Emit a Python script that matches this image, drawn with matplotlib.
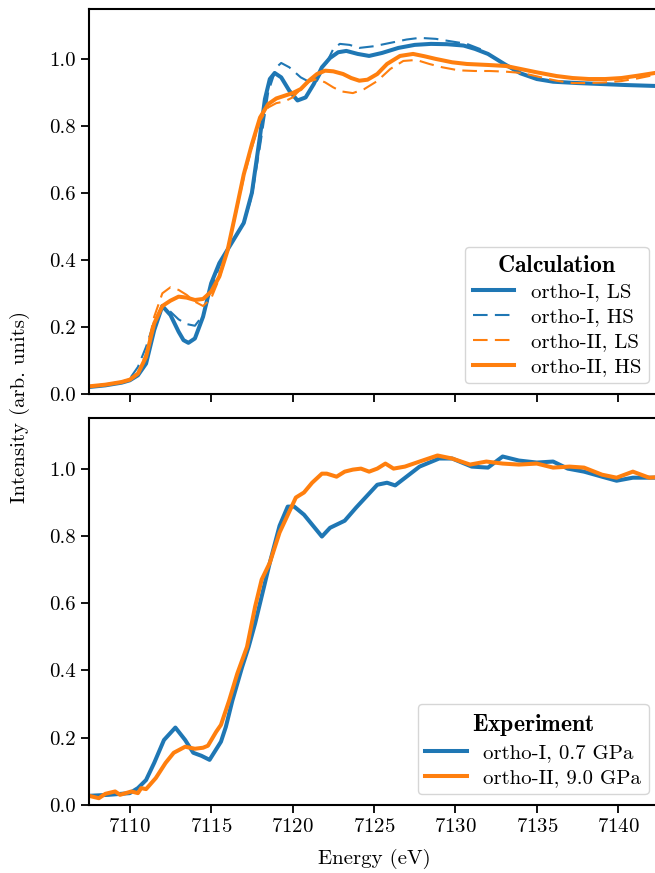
import numpy as np
import matplotlib
matplotlib.use("Agg")
import matplotlib.pyplot as plt

plt.rcParams['font.family'] = ['cmr10', 'DejaVu Serif']
plt.rcParams['mathtext.fontset'] = 'cm'
plt.rcParams['axes.formatter.use_mathtext'] = True
plt.rcParams['font.size'] = 15
plt.rcParams['axes.linewidth'] = 1.5
plt.rcParams['xtick.major.width'] = 1.3
plt.rcParams['ytick.major.width'] = 1.3
plt.rcParams['xtick.major.size'] = 6
plt.rcParams['ytick.major.size'] = 6

# --- calculation (top panel) ---
e_I_LS = [7107.5, 7108.5, 7109.5, 7110.0, 7110.5, 7111.0, 7111.5, 7112.0, 7112.5, 7113.0,
          7113.3, 7113.6, 7114.0, 7114.5, 7115.0, 7115.5, 7116.0, 7116.5, 7117.0, 7117.5, 7118.0,
          7118.3, 7118.6, 7118.9, 7119.3, 7119.8, 7120.3, 7120.8, 7121.3, 7121.8, 7122.3,
          7122.8, 7123.3, 7124.0, 7124.7, 7125.5, 7126.5, 7127.5, 7128.5, 7129.5, 7130.5,
          7131.2, 7132.0, 7133.0, 7134.0, 7135.0, 7136.0, 7137.5, 7139.0, 7140.5, 7142.5]
i_I_LS = [0.020, 0.025, 0.033, 0.040, 0.055, 0.090, 0.190, 0.262, 0.235, 0.185,
          0.160, 0.152, 0.165, 0.230, 0.330, 0.390, 0.430, 0.470, 0.510, 0.600, 0.770,
          0.880, 0.940, 0.958, 0.945, 0.905, 0.876, 0.885, 0.925, 0.975, 1.003,
          1.020, 1.024, 1.015, 1.009, 1.018, 1.033, 1.042, 1.045, 1.044, 1.040,
          1.030, 1.015, 0.985, 0.957, 0.940, 0.932, 0.928, 0.925, 0.922, 0.919]

e_I_HS = [7107.5, 7108.5, 7109.5, 7110.0, 7110.5, 7111.0, 7111.5, 7112.0, 7112.5, 7113.0,
          7113.5, 7114.0, 7114.5, 7115.0, 7115.5, 7116.0, 7116.5, 7117.0, 7117.5, 7118.0,
          7118.5, 7119.0, 7119.3, 7119.8, 7120.5, 7121.0, 7121.5, 7122.0, 7122.5, 7122.9,
          7123.5, 7124.1, 7125.0, 7126.0, 7127.0, 7127.8, 7128.8, 7129.8, 7130.7, 7131.5,
          7132.0, 7133.0, 7134.0, 7135.0, 7136.0, 7137.5, 7139.0, 7140.5, 7142.5]
i_I_HS = [0.020, 0.025, 0.035, 0.045, 0.080, 0.140, 0.215, 0.262, 0.245, 0.222,
          0.208, 0.203, 0.235, 0.310, 0.380, 0.430, 0.470, 0.510, 0.590, 0.740,
          0.900, 0.975, 0.988, 0.975, 0.945, 0.932, 0.935, 0.980, 1.030, 1.045,
          1.042, 1.033, 1.038, 1.048, 1.058, 1.063, 1.060, 1.052, 1.045, 1.030,
          1.015, 0.985, 0.957, 0.940, 0.932, 0.928, 0.925, 0.922, 0.919]

e_II_LS = [7107.5, 7108.5, 7109.5, 7110.0, 7110.5, 7111.0, 7111.5, 7112.0, 7112.5, 7113.0,
           7113.5, 7114.0, 7114.5, 7115.0, 7115.5, 7116.0, 7116.5, 7117.0, 7117.5, 7118.0,
           7118.5, 7119.0, 7119.5, 7120.0, 7120.5, 7121.0, 7121.5, 7122.0, 7122.5, 7123.0,
           7123.7, 7124.4, 7125.2, 7126.0, 7126.8, 7127.6, 7128.4, 7129.2, 7130.2, 7131.2,
           7132.1, 7133.1, 7134.1, 7135.1, 7136.2, 7137.2, 7138.2, 7139.2, 7140.2, 7141.2,
           7142.5]
i_II_LS = [0.022, 0.027, 0.035, 0.042, 0.060, 0.120, 0.230, 0.300, 0.318, 0.310,
           0.295, 0.275, 0.262, 0.285, 0.345, 0.425, 0.535, 0.645, 0.735, 0.815,
           0.855, 0.868, 0.873, 0.885, 0.910, 0.932, 0.940, 0.930, 0.915, 0.903,
           0.898, 0.910, 0.934, 0.970, 0.994, 0.997, 0.985, 0.975, 0.966, 0.964,
           0.964, 0.962, 0.958, 0.947, 0.935, 0.928, 0.928, 0.930, 0.934, 0.942,
           0.955]

e_II_HS = [7107.5, 7108.5, 7109.5, 7110.0, 7110.5, 7111.0, 7111.5, 7112.0, 7112.5, 7113.0,
           7113.5, 7114.0, 7114.5, 7115.0, 7115.5, 7116.0, 7116.5, 7117.0, 7117.5, 7118.0,
           7118.5, 7119.0, 7119.5, 7120.0, 7120.5, 7121.0, 7121.5, 7122.0, 7122.5, 7123.1,
           7123.6, 7124.1, 7124.6, 7125.2, 7125.8, 7126.6, 7127.4, 7128.1, 7128.8, 7129.8,
           7130.7, 7132.0, 7133.1, 7134.0, 7135.0, 7136.2, 7137.2, 7138.2, 7139.2, 7140.2,
           7141.2, 7142.5]
i_II_HS = [0.022, 0.027, 0.035, 0.042, 0.060, 0.110, 0.210, 0.262, 0.278, 0.290,
           0.287, 0.280, 0.283, 0.305, 0.350, 0.427, 0.540, 0.655, 0.745, 0.825,
           0.865, 0.882, 0.890, 0.898, 0.910, 0.935, 0.955, 0.965, 0.963, 0.955,
           0.943, 0.935, 0.938, 0.955, 0.985, 1.009, 1.015, 1.008, 1.000, 0.990,
           0.985, 0.982, 0.979, 0.970, 0.960, 0.949, 0.943, 0.940, 0.940, 0.943,
           0.950, 0.960]

# --- experiment (bottom panel) ---
e_exp_I = [7107.5, 7108.7, 7110.0, 7110.5, 7111.0, 7111.5, 7112.1, 7112.8, 7113.4, 7113.9,
           7114.4, 7114.9, 7115.6, 7115.9, 7116.3, 7116.9, 7117.3, 7117.7, 7118.1, 7118.6,
           7119.2, 7119.7, 7120.1, 7120.7, 7121.8, 7122.3, 7123.2, 7123.9, 7125.2, 7125.8,
           7126.3, 7127.8, 7129.0, 7129.8, 7131.0, 7132.0, 7132.9, 7133.9, 7135.0, 7136.0,
           7136.9, 7137.9, 7139.0, 7139.9, 7140.9, 7142.5]
i_exp_I = [0.027, 0.030, 0.035, 0.050, 0.074, 0.125, 0.193, 0.230, 0.193, 0.155,
           0.146, 0.134, 0.188, 0.232, 0.310, 0.410, 0.470, 0.540, 0.620, 0.720,
           0.830, 0.887, 0.887, 0.863, 0.798, 0.824, 0.845, 0.884, 0.952, 0.958,
           0.950, 1.006, 1.030, 1.030, 1.006, 1.003, 1.036, 1.024, 1.018, 1.021,
           1.000, 0.991, 0.976, 0.964, 0.973, 0.973]

e_exp_II = [7107.5, 7108.1, 7108.5, 7109.1, 7109.4, 7110.1, 7110.5, 7110.7, 7111.0, 7111.6,
            7112.2, 7112.7, 7113.4, 7114.0, 7114.5, 7114.8, 7115.3, 7115.6, 7116.1, 7116.6,
            7117.2, 7117.7, 7118.1, 7118.6, 7119.2, 7120.2, 7120.7, 7121.2, 7121.8, 7122.1,
            7122.7, 7123.2, 7123.7, 7124.2, 7124.7, 7125.2, 7125.7, 7126.2, 7126.9, 7127.8,
            7128.9, 7129.8, 7130.9, 7131.9, 7132.9, 7133.9, 7135.0, 7136.0, 7137.0, 7137.9,
            7139.0, 7139.9, 7140.9, 7141.9, 7142.5]
i_exp_II = [0.027, 0.020, 0.033, 0.040, 0.030, 0.040, 0.035, 0.050, 0.047, 0.080,
            0.125, 0.155, 0.173, 0.167, 0.170, 0.176, 0.217, 0.238, 0.310, 0.390,
            0.470, 0.590, 0.670, 0.720, 0.810, 0.914, 0.929, 0.958, 0.985, 0.985,
            0.976, 0.991, 0.997, 1.000, 0.991, 1.000, 1.015, 1.000, 1.006, 1.021,
            1.039, 1.030, 1.012, 1.021, 1.015, 1.012, 1.015, 1.003, 1.006, 1.003,
            0.982, 0.973, 0.991, 0.973, 0.975]

blue = '#1f77b4'
orange = '#ff7f0e'
dash = (0, (7, 3.5))

fig = plt.figure(figsize=(6.55, 8.73), dpi=100)
ax1 = fig.add_axes([0.136, 0.549, 0.870, 0.441])
ax2 = fig.add_axes([0.136, 0.078, 0.870, 0.443])

ax1.plot(e_I_LS, i_I_LS, color=blue, lw=2.9, label='ortho-I, LS')
ax1.plot(e_I_HS, i_I_HS, color=blue, lw=1.5, ls=dash, label='ortho-I, HS')
ax1.plot(e_II_LS, i_II_LS, color=orange, lw=1.5, ls=dash, label='ortho-II, LS')
ax1.plot(e_II_HS, i_II_HS, color=orange, lw=2.9, label='ortho-II, HS')

ax2.plot(e_exp_I, i_exp_I, color=blue, lw=2.9, label='ortho-I, 0.7 GPa')
ax2.plot(e_exp_II, i_exp_II, color=orange, lw=2.9, label='ortho-II, 9.0 GPa')

for ax in (ax1, ax2):
    ax.set_xlim(7107.5, 7142.5)
    ax.set_ylim(0, 1.15)
    ax.set_xticks([7110, 7115, 7120, 7125, 7130, 7135, 7140])
    ax.set_yticks([0.0, 0.2, 0.4, 0.6, 0.8, 1.0])
    ax.set_yticklabels(['0.0', '0.2', '0.4', '0.6', '0.8', '1.0'])
ax1.set_xticklabels([])

leg1 = ax1.legend(loc='lower right', title=r'$\mathbf{Calculation}$',
                  title_fontsize=17, fontsize=15, handlelength=2.0,
                  labelspacing=0.3, borderpad=0.35)
leg2 = ax2.legend(loc='lower right', title=r'$\mathbf{Experiment}$',
                  title_fontsize=17, fontsize=15, handlelength=2.0,
                  labelspacing=0.3, borderpad=0.35)

ax2.set_xlabel('Energy (eV)', fontsize=15, labelpad=9)
fig.text(0.03, 0.534, 'Intensity (arb. units)', rotation=90,
         ha='center', va='center', fontsize=15)

fig.savefig('out.png', dpi=100)
